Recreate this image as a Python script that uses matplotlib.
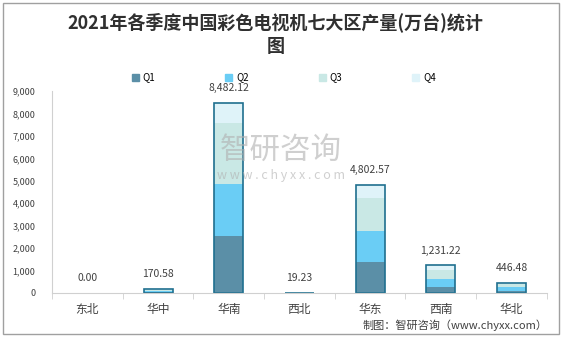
import matplotlib.pyplot as plt
import matplotlib.patches as mpatches
import numpy as np

plt.rcParams['font.family'] = ['Noto Sans CJK SC', 'DejaVu Sans']

regions = ['东北', '华中', '华南', '西北', '华东', '西南', '华北']
q1 = [0, 40, 2530, 5, 1370, 267, 100]
q2 = [0, 60, 2330, 5, 1405, 342, 150]
q3 = [0, 50, 2700, 5, 1475, 431, 130]
q4 = [0, 20.58, 922.12, 4.23, 552.57, 191.22, 66.48]
totals = [0.00, 170.58, 8482.12, 19.23, 4802.57, 1231.22, 446.48]
series_names = ['Q1', 'Q2', 'Q3', 'Q4']
colors = ['#5b8fa7', '#6acdf5', '#c9e8e5', '#dff3f9']
edge = '#1f6f8f'

fig = plt.figure(figsize=(5.62, 3.37), dpi=100)
ax = fig.add_axes([0.0925, 0.1306, 0.8805, 0.5994])

x = np.arange(len(regions))
w = 0.41
bottom = np.zeros(len(regions))
handles = []
for vals, c, name in zip([q1, q2, q3, q4], colors, series_names):
    ax.bar(x, vals, w, bottom=bottom, color=c, linewidth=0)
    bottom += np.array(vals)
    handles.append(mpatches.Patch(color=c, label=name))

# outline around each stack
for i, t in enumerate(totals):
    if t > 0:
        ax.bar(x[i], t, w, fill=False, edgecolor=edge, linewidth=1.2)
    ax.annotate(f'{t:,.2f}', (x[i], t), xytext=(0, 7), textcoords='offset points',
                ha='center', va='bottom', fontsize=7.5, color='#404040')

ax.set_xlim(-0.5, len(regions) - 0.5)
ax.set_ylim(0, 9000)
ax.set_yticks(range(0, 9001, 1000))
ax.set_yticklabels([f'{v:,}' for v in range(0, 9001, 1000)], fontsize=6.5, color='#404040')
ax.set_xticks(x)
ax.set_xticklabels(regions, fontsize=8.5, color='#404040')
ax.set_xticks(np.arange(-0.5, len(regions), 1), minor=True)
ax.tick_params(axis='x', which='major', length=0, pad=7)
ax.tick_params(axis='x', which='minor', length=4, color='#d0d0d0')
ax.tick_params(axis='y', length=0, pad=12)
for s in ['top', 'right']:
    ax.spines[s].set_visible(False)
ax.spines['left'].set_color('#d0d0d0')
ax.spines['bottom'].set_color('#d0d0d0')

fig.text(0.49, 0.935, '2021年各季度中国彩色电视机七大区产量(万台)统计', ha='center', va='center',
         fontsize=13, fontweight='bold', color='#303030')
fig.text(0.49, 0.862, '图', ha='center', va='center', fontsize=13, fontweight='bold', color='#303030')

fig.legend(handles=handles, loc='center', bbox_to_anchor=(0.505, 0.77), ncol=4, frameon=False,
           fontsize=7, handlelength=0.7, handleheight=0.7, columnspacing=7.2, handletextpad=0.4)

# watermark
fig.text(0.5, 0.555, '智研咨询', ha='center', va='center', fontsize=22, color='#b0b0b0', alpha=0.6)
fig.text(0.5, 0.48, 'w w w . c h y x x . c o m', ha='center', va='center', fontsize=9, color='#b0b0b0', alpha=0.6)

fig.text(0.975, 0.035, '制图：智研咨询（www.chyxx.com）', ha='right', va='center', fontsize=8, color='#404040')

fig.patches.append(mpatches.Rectangle((0.006, 0.01), 0.988, 0.98, transform=fig.transFigure,
                                      fill=False, edgecolor='#a0a0a0', linewidth=1))

fig.savefig('out.png', dpi=100)
